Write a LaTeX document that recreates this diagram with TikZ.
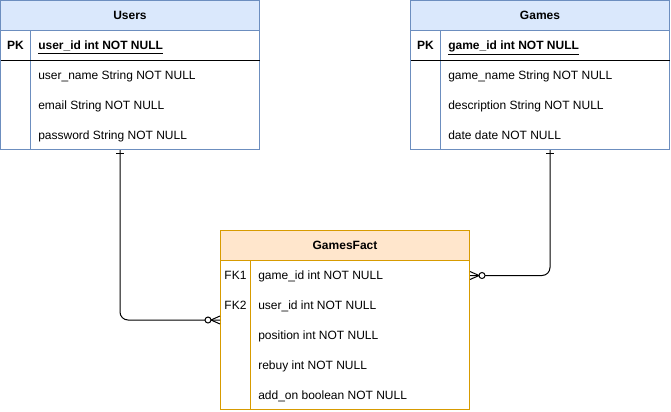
\documentclass[tikz,border=0pt]{standalone}
\usepackage{fontspec}
\setmainfont{Liberation Sans}
\usepackage{xcolor}
\usepackage{tikz}
\usetikzlibrary{arrows.meta,calc,decorations.markings}
\definecolor{usrfill}{HTML}{DAE8FC}
\definecolor{usrline}{HTML}{6C8EBF}
\definecolor{factfill}{HTML}{FFE6CC}
\definecolor{factline}{HTML}{D79B00}

\begin{document}
\begin{tikzpicture}[x=0.75pt, y=-0.75pt,
  every node/.style={inner sep=0pt, font=\fontsize{9}{11}\selectfont, text height=6.5pt, text depth=0pt},
  erbox/.style={draw, line width=0.75pt},
  ttl/.style={font=\fontsize{9}{11}\selectfont\bfseries},
  field/.style={anchor=west},
  pkfield/.style={anchor=west, font=\fontsize{9}{11}\selectfont\bfseries},
  rel/.style={line width=0.75pt, rounded corners=6},
  one/.style={postaction={decorate, decoration={markings,
    mark=at position 2.6pt with {\draw[line width=0.75pt] (0,-3pt) -- (0,3pt);}}}},
  many/.style={postaction={decorate, decoration={markings,
    mark=at position 1 with {\draw[line width=0.75pt] (-6.75pt,0) -- (0,3pt) (-6.75pt,0) -- (0,-3pt);
      \draw[line width=0.75pt, fill=white] (-9pt,0) circle (2.25pt);}}}}
]
\useasboundingbox (0,0) rectangle (671,411);

% Users
\fill[usrfill] (0.5,0.5) rectangle (259.5,30.5);
\node[erbox, draw=usrline, minimum width=194.25pt, minimum height=111.75pt] (users) at (130,75) {};
\draw[usrline, line width=0.75pt] (0.5,30.5) -- (259.5,30.5) (30.5,30.5) -- (30.5,149.5);
\draw[line width=0.75pt] (0.5,60.5) -- (259.5,60.5);
\node[ttl] (users-t) at (130,15.5) {Users};
\node[ttl] (users-pk) at (15.5,45.5) {PK};
\node[pkfield] (users-id) at (38,45.5) {\underline{user\_id int NOT NULL}};
\foreach \txt [count=\i] in {user\_name String NOT NULL, email String NOT NULL, password String NOT NULL}
  \node[field] (users-r\i) at (38,45.5+30*\i) {\txt};

% Games
\fill[usrfill] (410.5,0.5) rectangle (669.5,30.5);
\node[erbox, draw=usrline, minimum width=194.25pt, minimum height=111.75pt] (games) at (540,75) {};
\draw[usrline, line width=0.75pt] (410.5,30.5) -- (669.5,30.5) (440.5,30.5) -- (440.5,149.5);
\draw[line width=0.75pt] (410.5,60.5) -- (669.5,60.5);
\node[ttl] (games-t) at (540,15.5) {Games};
\node[ttl] (games-pk) at (425.5,45.5) {PK};
\node[pkfield] (games-id) at (448,45.5) {\underline{game\_id int NOT NULL}};
\foreach \txt [count=\i] in {game\_name String NOT NULL, description String NOT NULL, date date NOT NULL}
  \node[field] (games-r\i) at (448,45.5+30*\i) {\txt};

% GamesFact
\fill[factfill] (220.5,230.5) rectangle (469.5,260.5);
\node[erbox, draw=factline, minimum width=186.75pt, minimum height=134.25pt] (fact) at (345,320) {};
\draw[factline, line width=0.75pt] (220.5,260.5) -- (469.5,260.5) (250.5,260.5) -- (250.5,409.5);
\node[ttl] (fact-t) at (345,245.5) {GamesFact};
\node (fact-fk1) at (235.5,275.5) {FK1};
\node (fact-fk2) at (235.5,305.5) {FK2};
\foreach \txt [count=\i] in {game\_id int NOT NULL, user\_id int NOT NULL, position int NOT NULL, rebuy int NOT NULL, add\_on boolean NOT NULL}
  \node[field] (fact-r\i) at (258,245.5+30*\i) {\txt};

% relations
\draw[rel, one, many] ($(users.south)+(-10,0)$) |- (fact.west);
\draw[rel, one, many] ($(games.south)+(10,0)$) |- (fact.east |- fact-r1);
\end{tikzpicture}
\end{document}
